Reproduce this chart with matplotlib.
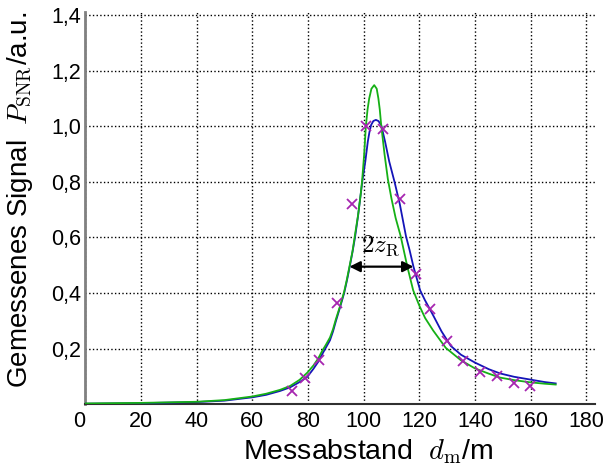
import matplotlib
matplotlib.use('Agg')
import matplotlib.pyplot as plt
from matplotlib import rcParams

# measured points (crosses)
meas_x = [74.1, 78.8, 83.8, 90.3, 95.9, 100.7, 107.1, 113.0, 118.7, 123.7,
          129.9, 135.7, 141.8, 147.8, 154.0, 159.8]
meas_y = [0.048, 0.094, 0.160, 0.366, 0.722, 1.000, 0.990, 0.738, 0.470, 0.343,
          0.227, 0.155, 0.117, 0.102, 0.075, 0.066]

# fit curve (blue)
blue_x = [0, 10, 20, 30, 40, 50, 60, 65, 70, 73.6, 77.0, 79.8, 82.0, 83.7, 85.0,
          86.5, 87.9, 89.0, 90.0, 91.5, 93.0, 94.0, 95.0, 96.0, 96.9, 98.0, 99.0,
          99.5, 100.1, 100.6, 101.5, 102.1, 102.7, 103.5, 104.4, 105.3, 106.3,
          107.0, 107.7, 109.2, 111.1, 113.0, 115.2, 116.5, 117.9, 120.3, 122.0,
          123.7, 125.5, 128.0, 131.3, 135.0, 140.0, 145.0, 149.0, 154.0, 159.8,
          165.0, 169.0]
blue_y = [0.002, 0.003, 0.004, 0.006, 0.008, 0.013, 0.025, 0.034, 0.048, 0.061,
          0.080, 0.099, 0.128, 0.153, 0.178, 0.205, 0.230, 0.262, 0.298, 0.348,
          0.400, 0.445, 0.495, 0.548, 0.600, 0.678, 0.760, 0.800, 0.840, 0.873,
          0.945, 0.980, 1.005, 1.019, 1.023, 1.019, 1.005, 0.975, 0.945, 0.873,
          0.800, 0.720, 0.605, 0.555, 0.495, 0.410, 0.375, 0.344, 0.310, 0.262,
          0.210, 0.178, 0.150, 0.126, 0.111, 0.099, 0.089, 0.080, 0.075]

# model curve (green)
green_x = [0, 10, 20, 30, 40, 50, 60, 65, 70, 73.6, 77.0, 79.8, 82.0, 83.7, 85.0,
           86.5, 87.9, 89.0, 90.0, 91.5, 93.0, 94.0, 94.9, 96.0, 96.9, 98.0, 99.0,
           99.5, 100.2, 100.8, 101.4, 102.0, 102.8, 103.8, 104.7, 105.3, 105.8,
           106.3, 107.5, 108.7, 110.0, 111.5, 113.3, 114.5, 115.7, 117.8, 120.0,
           122.1, 125.0, 129.5, 135.0, 140.0, 145.0, 149.0, 154.0, 159.8, 165.0,
           169.0]
green_y = [0.003, 0.004, 0.005, 0.007, 0.009, 0.015, 0.028, 0.038, 0.052, 0.066,
           0.088, 0.114, 0.140, 0.165, 0.190, 0.215, 0.240, 0.270, 0.305, 0.352,
           0.405, 0.450, 0.495, 0.550, 0.610, 0.680, 0.760, 0.810, 0.900, 1.000,
           1.060, 1.100, 1.135, 1.148, 1.135, 1.100, 1.060, 1.005, 0.900, 0.810,
           0.740, 0.670, 0.605, 0.550, 0.495, 0.410, 0.355, 0.310, 0.265, 0.203,
           0.158, 0.129, 0.110, 0.096, 0.087, 0.079, 0.074, 0.071]

x_ticks = [0, 20, 40, 60, 80, 100, 120, 140, 160, 180]
y_ticks = [0, 0.2, 0.4, 0.6, 0.8, 1.0, 1.2, 1.4]
y_ticklabels = ['', '0,2', '0,4', '0,6', '0,8', '1,0', '1,2', '1,4']

rcParams['font.family'] = ['Liberation Sans', 'DejaVu Sans']
rcParams['mathtext.fontset'] = 'cm'
rcParams['font.size'] = 15

fig = plt.figure(figsize=(6.04, 4.69), dpi=100)
ax = fig.add_axes([0.1412, 0.138, 0.8438, 0.8364])

ax.plot(blue_x, blue_y, color='#1414b8', lw=1.3, zorder=3)
ax.plot(green_x, green_y, color='#16b016', lw=1.3, zorder=4)
ax.plot(meas_x, meas_y, 'x', color='#a626b0', ms=7, mew=1.3, zorder=5)

ax.annotate('', xy=(94.9, 0.495), xytext=(117.9, 0.495),
            arrowprops=dict(arrowstyle='<|-|>', color='black', lw=1.6,
                            mutation_scale=16, shrinkA=0, shrinkB=0), zorder=6)
ax.text(106.0, 0.525, r'$2z_{\mathrm{R}}$', ha='center', va='bottom', fontsize=18)

ax.set_xlim(0, 183.1)
ax.set_ylim(0, 1.411)
ax.set_xticks(x_ticks)
ax.set_xticklabels([str(v) for v in x_ticks])
ax.get_xticklabels()[0].set_ha('right')
ax.set_yticks(y_ticks)
ax.set_yticklabels(y_ticklabels)
ax.tick_params(axis='both', length=0, labelsize=15.5)
ax.tick_params(axis='x', pad=5)
ax.tick_params(axis='y', pad=3)

ax.grid(True, color='black', linestyle=':', linewidth=1.0)
for sp in ['top', 'right']:
    ax.spines[sp].set_visible(False)
ax.spines['left'].set_color('#808080')
ax.spines['left'].set_linewidth(2.0)
ax.spines['bottom'].set_color('#303030')
ax.spines['bottom'].set_linewidth(1.5)
ax.set_axisbelow(True)

ax.set_xlabel(r'Messabstand  $d_{\mathrm{m}}$/m', fontsize=20.5)
ax.xaxis.set_label_coords(0.555, -0.085)
ax.set_ylabel(r'Gemessenes Signal  $P_{\mathrm{SNR}}$/a.u.', fontsize=20)
ax.yaxis.set_label_coords(-0.099, 0.522)

plt.savefig('out.png', dpi=100)
